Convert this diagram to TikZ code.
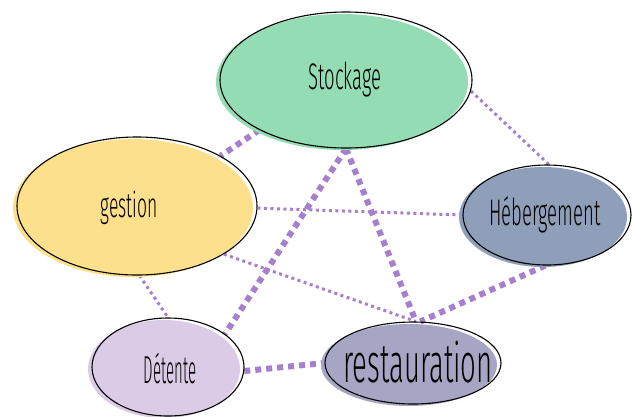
\documentclass[tikz,border=0pt]{standalone}
\usepackage{fontspec}
\usepackage{graphicx}
\setmainfont{Fira Sans Light}[FakeStretch=0.5]
\usetikzlibrary{shapes.geometric,backgrounds}
\definecolor{linkc}{HTML}{A77FCF}
\definecolor{cstock}{HTML}{93DCB4}
\definecolor{cgest}{HTML}{FDE08C}
\definecolor{cheb}{HTML}{8F9FBA}
\definecolor{cdet}{HTML}{DCCBE6}
\definecolor{crest}{HTML}{A7A5C4}
\tikzset{
  bub/.style={ellipse, draw=black, line width=1.1pt, inner sep=0pt, text=black!90,
    preaction={fill=#1, draw=none, transform canvas={xshift=-4pt,yshift=-2pt}}},
  lbl/.style={inner sep=0pt},
  thinlink/.style={draw=linkc, line width=3pt, dash pattern=on 3pt off 3.5pt},
  thicklink/.style={draw=linkc, line width=6pt, dash pattern=on 6pt off 5pt},
}
\begin{document}
\begin{tikzpicture}[x=1pt,y=-1pt]
\useasboundingbox (0,0) rectangle (632,416);
\node[bub=cstock, minimum width=252pt, minimum height=136pt] (stock) at (346,80) {};
\node[bub=cgest, minimum width=240pt, minimum height=138pt] (gest) at (137,206) {};
\node[bub=cheb, minimum width=168pt, minimum height=100pt] (heb) at (547,215) {};
\node[bub=cdet, minimum width=152pt, minimum height=98pt] (det) at (168,367) {};
\node[bub=crest, minimum width=176pt, minimum height=82pt] (rest) at (413,363) {};
\node[lbl, font=\fontsize{37}{40}\selectfont] (tstock) at (345,80) {Stockage};
\node[lbl, font=\fontsize{35}{38}\selectfont] (tgest) at (129,208) {gestion};
\node[lbl, font=\fontsize{37}{40}\selectfont] (theb) at (545,215) {Hébergement};
\node[lbl, font=\fontsize{39}{42}\selectfont] (tdet) at (170,368) {\scalebox{0.77}[1]{Détente}};
\node[lbl, font=\fontsize{55}{58}\selectfont] (trest) at (418,362) {restauration};
\begin{pgfonlayer}{background}
\draw[thinlink] (stock.-5) -- (heb.88);
\draw[thicklink] (stock.210) -- (gest.31);
\draw[thicklink] (stock.-90) -- (det.30);
\draw[thicklink] (stock.-90) -- (rest.86);
\draw[thinlink] (gest.-1) -- (heb.180);
\draw[thinlink] (gest.-29) -- (rest.86);
\draw[thinlink] (gest.-88) -- (det.90);
\draw[thicklink] (heb.-92) -- (rest.80);
\draw[thicklink] (det.-3) -- (rest.180);
\end{pgfonlayer}
\end{tikzpicture}
\end{document}
